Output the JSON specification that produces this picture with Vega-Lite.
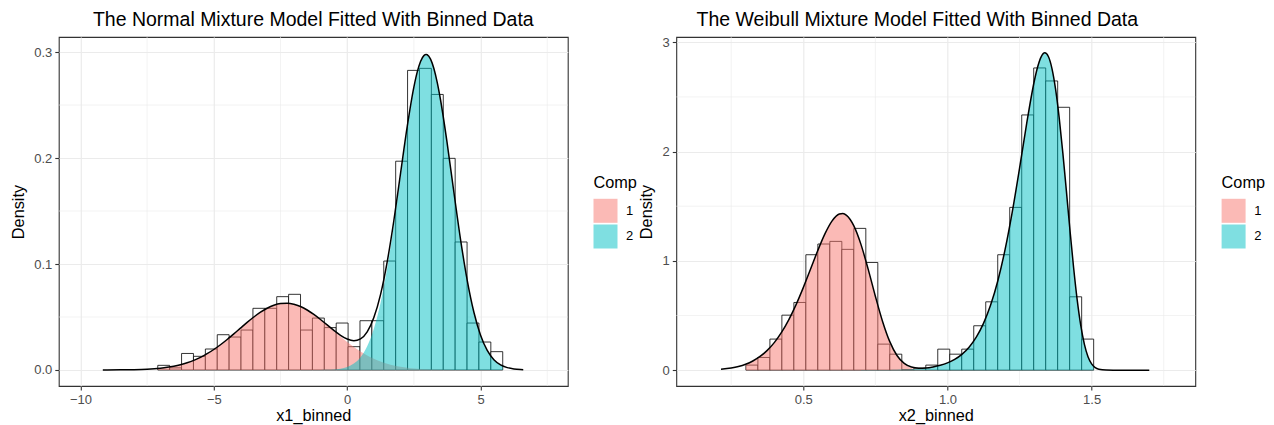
{
  "$schema": "https://vega.github.io/schema/vega-lite/v6.json",
  "padding": {"left": 8.8, "top": 9, "right": 0, "bottom": 5},
  "background": "white",
  "spacing": -1.5,
  "datasets": {
    "minorXL": [{"v": -7.5}, {"v": -2.5}, {"v": 2.5}, {"v": 7.5}],
    "minorYL": [{"v": 0.05}, {"v": 0.15}, {"v": 0.25}],
    "minorXR": [{"v": 0.25}, {"v": 0.75}, {"v": 1.25}, {"v": 1.75}],
    "minorYR": [{"v": 0.5}, {"v": 1.5}, {"v": 2.5}],
    "binsL": [
      {"x0": -7.100, "x1": -6.654, "h": 0.0044},
      {"x0": -6.654, "x1": -6.208, "h": 0.0020},
      {"x0": -6.208, "x1": -5.762, "h": 0.0156},
      {"x0": -5.762, "x1": -5.316, "h": 0.0129},
      {"x0": -5.316, "x1": -4.870, "h": 0.0198},
      {"x0": -4.870, "x1": -4.425, "h": 0.0333},
      {"x0": -4.425, "x1": -3.979, "h": 0.0311},
      {"x0": -3.979, "x1": -3.533, "h": 0.0377},
      {"x0": -3.533, "x1": -3.087, "h": 0.0582},
      {"x0": -3.087, "x1": -2.641, "h": 0.0582},
      {"x0": -2.641, "x1": -2.195, "h": 0.0692},
      {"x0": -2.195, "x1": -1.749, "h": 0.0714},
      {"x0": -1.749, "x1": -1.303, "h": 0.0377},
      {"x0": -1.303, "x1": -0.857, "h": 0.0490},
      {"x0": -0.857, "x1": -0.411, "h": 0.0400},
      {"x0": -0.411, "x1": 0.034, "h": 0.0443},
      {"x0": 0.034, "x1": 0.480, "h": 0.0220},
      {"x0": 0.480, "x1": 0.926, "h": 0.0465},
      {"x0": 0.926, "x1": 1.372, "h": 0.0465},
      {"x0": 1.372, "x1": 1.818, "h": 0.1028},
      {"x0": 1.818, "x1": 2.264, "h": 0.1970},
      {"x0": 2.264, "x1": 2.710, "h": 0.2827},
      {"x0": 2.710, "x1": 3.156, "h": 0.2846},
      {"x0": 3.156, "x1": 3.602, "h": 0.2600},
      {"x0": 3.602, "x1": 4.048, "h": 0.1997},
      {"x0": 4.048, "x1": 4.494, "h": 0.1208},
      {"x0": 4.494, "x1": 4.939, "h": 0.0443},
      {"x0": 4.939, "x1": 5.385, "h": 0.0264},
      {"x0": 5.385, "x1": 5.831, "h": 0.0173}
    ],
    "compL": [
      {"x": -7.1, "d": 0.00149, "c": "1"}, {"x": -7, "d": 0.00174, "c": "1"}, {"x": -6.75, "d": 0.00252, "c": "1"}, {"x": -6.5, "d": 0.00359, "c": "1"},
      {"x": -6.25, "d": 0.00500, "c": "1"}, {"x": -6, "d": 0.00682, "c": "1"}, {"x": -5.75, "d": 0.00912, "c": "1"}, {"x": -5.5, "d": 0.01196, "c": "1"},
      {"x": -5.25, "d": 0.01537, "c": "1"}, {"x": -5, "d": 0.01934, "c": "1"}, {"x": -4.75, "d": 0.02383, "c": "1"}, {"x": -4.5, "d": 0.02880, "c": "1"},
      {"x": -4.25, "d": 0.03408, "c": "1"}, {"x": -4, "d": 0.03952, "c": "1"}, {"x": -3.75, "d": 0.04491, "c": "1"}, {"x": -3.5, "d": 0.05000, "c": "1"},
      {"x": -3.25, "d": 0.05453, "c": "1"}, {"x": -3, "d": 0.05829, "c": "1"}, {"x": -2.75, "d": 0.06104, "c": "1"}, {"x": -2.5, "d": 0.06263, "c": "1"},
      {"x": -2.25, "d": 0.06296, "c": "1"}, {"x": -2, "d": 0.06202, "c": "1"}, {"x": -1.75, "d": 0.05986, "c": "1"}, {"x": -1.5, "d": 0.05660, "c": "1"},
      {"x": -1.25, "d": 0.05244, "c": "1"}, {"x": -1, "d": 0.04760, "c": "1"}, {"x": -0.75, "d": 0.04234, "c": "1"}, {"x": -0.5, "d": 0.03690, "c": "1"},
      {"x": -0.25, "d": 0.03151, "c": "1"}, {"x": 0, "d": 0.02637, "c": "1"}, {"x": 0.25, "d": 0.02161, "c": "1"}, {"x": 0.5, "d": 0.01736, "c": "1"},
      {"x": 0.75, "d": 0.01366, "c": "1"}, {"x": 1, "d": 0.01053, "c": "1"}, {"x": 1.25, "d": 0.00796, "c": "1"}, {"x": 1.5, "d": 0.00589, "c": "1"},
      {"x": 1.75, "d": 0.00427, "c": "1"}, {"x": 2, "d": 0.00304, "c": "1"}, {"x": 2.25, "d": 0.00211, "c": "1"}, {"x": 2.5, "d": 0.00144, "c": "1"},
      {"x": 2.75, "d": 0.00096, "c": "1"}, {"x": 3, "d": 0.00063, "c": "1"}, {"x": 3.25, "d": 0.00041, "c": "1"}, {"x": 3.5, "d": 0.00026, "c": "1"},
      {"x": 3.75, "d": 0.00016, "c": "1"}, {"x": 4, "d": 0.0001, "c": "1"},
      {"x": -1, "d": 0.00007, "c": "2"}, {"x": -0.75, "d": 0.0002, "c": "2"}, {"x": -0.5, "d": 0.00053, "c": "2"}, {"x": -0.25, "d": 0.00127, "c": "2"},
      {"x": 0, "d": 0.00288, "c": "2"}, {"x": 0.25, "d": 0.00609, "c": "2"}, {"x": 0.5, "d": 0.01207, "c": "2"}, {"x": 0.75, "d": 0.0224, "c": "2"},
      {"x": 1, "d": 0.03891, "c": "2"}, {"x": 1.25, "d": 0.06317, "c": "2"}, {"x": 1.5, "d": 0.09614, "c": "2"}, {"x": 1.75, "d": 0.1368, "c": "2"},
      {"x": 2, "d": 0.1824, "c": "2"}, {"x": 2.25, "d": 0.2275, "c": "2"}, {"x": 2.5, "d": 0.2655, "c": "2"}, {"x": 2.625, "d": 0.2799, "c": "2"},
      {"x": 2.75, "d": 0.2901, "c": "2"}, {"x": 2.875, "d": 0.2959, "c": "2"}, {"x": 2.96, "d": 0.297, "c": "2"}, {"x": 3, "d": 0.2968, "c": "2"},
      {"x": 3.125, "d": 0.2928, "c": "2"}, {"x": 3.25, "d": 0.2841, "c": "2"}, {"x": 3.375, "d": 0.2711, "c": "2"}, {"x": 3.5, "d": 0.2545, "c": "2"},
      {"x": 3.75, "d": 0.2135, "c": "2"}, {"x": 4, "d": 0.1676, "c": "2"}, {"x": 4.25, "d": 0.1231, "c": "2"}, {"x": 4.5, "d": 0.0846, "c": "2"},
      {"x": 4.75, "d": 0.0545, "c": "2"}, {"x": 5, "d": 0.0328, "c": "2"}, {"x": 5.25, "d": 0.0185, "c": "2"}, {"x": 5.5, "d": 0.00977, "c": "2"},
      {"x": 5.75, "d": 0.00483, "c": "2"}, {"x": 5.83, "d": 0.0038, "c": "2"}
    ],
    "lineL": [
      {"x": -9.16, "d": 0.00003}, {"x": -9, "d": 0.00004}, {"x": -8.5, "d": 0.00012}, {"x": -8, "d": 0.00032}, {"x": -7.5, "d": 0.00077},
      {"x": -7, "d": 0.00174}, {"x": -6.75, "d": 0.00252}, {"x": -6.5, "d": 0.00359}, {"x": -6.25, "d": 0.00500}, {"x": -6, "d": 0.00682},
      {"x": -5.75, "d": 0.00912}, {"x": -5.5, "d": 0.01196}, {"x": -5.25, "d": 0.01537}, {"x": -5, "d": 0.01934}, {"x": -4.75, "d": 0.02383},
      {"x": -4.5, "d": 0.02880}, {"x": -4.25, "d": 0.03408}, {"x": -4, "d": 0.03952}, {"x": -3.75, "d": 0.04491}, {"x": -3.5, "d": 0.05000},
      {"x": -3.25, "d": 0.05453}, {"x": -3, "d": 0.05829}, {"x": -2.75, "d": 0.06104}, {"x": -2.5, "d": 0.06263}, {"x": -2.25, "d": 0.06296},
      {"x": -2, "d": 0.06202}, {"x": -1.75, "d": 0.05986}, {"x": -1.5, "d": 0.05661}, {"x": -1.25, "d": 0.05246}, {"x": -1, "d": 0.04767},
      {"x": -0.75, "d": 0.04254}, {"x": -0.5, "d": 0.03743}, {"x": -0.25, "d": 0.03278}, {"x": 0, "d": 0.02925}, {"x": 0.25, "d": 0.02770},
      {"x": 0.5, "d": 0.02943}, {"x": 0.75, "d": 0.03606}, {"x": 1, "d": 0.04944}, {"x": 1.25, "d": 0.07113}, {"x": 1.5, "d": 0.10203},
      {"x": 1.75, "d": 0.14107}, {"x": 2, "d": 0.18544}, {"x": 2.25, "d": 0.22961}, {"x": 2.5, "d": 0.26694}, {"x": 2.625, "d": 0.28105},
      {"x": 2.75, "d": 0.29106}, {"x": 2.875, "d": 0.29665}, {"x": 2.96, "d": 0.29768}, {"x": 3, "d": 0.29743}, {"x": 3.125, "d": 0.29326},
      {"x": 3.25, "d": 0.28451}, {"x": 3.375, "d": 0.27145}, {"x": 3.5, "d": 0.25476}, {"x": 3.75, "d": 0.21366}, {"x": 4, "d": 0.1677},
      {"x": 4.25, "d": 0.1231}, {"x": 4.5, "d": 0.0846}, {"x": 4.75, "d": 0.0545}, {"x": 5, "d": 0.0328}, {"x": 5.25, "d": 0.0185},
      {"x": 5.5, "d": 0.00977}, {"x": 5.75, "d": 0.00483}, {"x": 6, "d": 0.00223}, {"x": 6.25, "d": 0.00097}, {"x": 6.5, "d": 0.00039},
      {"x": 6.6, "d": 0.00027}
    ],
    "binsR": [
      {"x0": 0.3010, "x1": 0.3426, "h": 0.046},
      {"x0": 0.3426, "x1": 0.3842, "h": 0.116},
      {"x0": 0.3842, "x1": 0.4258, "h": 0.284},
      {"x0": 0.4258, "x1": 0.4674, "h": 0.503},
      {"x0": 0.4674, "x1": 0.5090, "h": 0.619},
      {"x0": 0.5090, "x1": 0.5505, "h": 1.056},
      {"x0": 0.5505, "x1": 0.5921, "h": 1.154},
      {"x0": 0.5921, "x1": 0.6337, "h": 1.178},
      {"x0": 0.6337, "x1": 0.6753, "h": 1.105},
      {"x0": 0.6753, "x1": 0.7169, "h": 1.297},
      {"x0": 0.7169, "x1": 0.7585, "h": 0.985},
      {"x0": 0.7585, "x1": 0.8001, "h": 0.238},
      {"x0": 0.8001, "x1": 0.8417, "h": 0.146},
      {"x0": 0.8417, "x1": 0.8833, "h": 0.005},
      {"x0": 0.8833, "x1": 0.9249, "h": 0.018},
      {"x0": 0.9249, "x1": 0.9664, "h": 0.046},
      {"x0": 0.9664, "x1": 1.0080, "h": 0.192},
      {"x0": 1.0080, "x1": 1.0496, "h": 0.146},
      {"x0": 1.0496, "x1": 1.0912, "h": 0.192},
      {"x0": 1.0912, "x1": 1.1328, "h": 0.406},
      {"x0": 1.1328, "x1": 1.1744, "h": 0.625},
      {"x0": 1.1744, "x1": 1.2160, "h": 1.056},
      {"x0": 1.2160, "x1": 1.2576, "h": 1.489},
      {"x0": 1.2576, "x1": 1.2992, "h": 2.335},
      {"x0": 1.2992, "x1": 1.3408, "h": 2.765},
      {"x0": 1.3408, "x1": 1.3823, "h": 2.646},
      {"x0": 1.3823, "x1": 1.4239, "h": 2.405},
      {"x0": 1.4239, "x1": 1.4655, "h": 0.671},
      {"x0": 1.4655, "x1": 1.5071, "h": 0.284}
    ],
    "compR": [
      {"x": 0.301, "d": 0.05512, "c": "1"}, {"x": 0.325, "d": 0.08371, "c": "1"}, {"x": 0.35, "d": 0.1250, "c": "1"}, {"x": 0.375, "d": 0.1808, "c": "1"},
      {"x": 0.4, "d": 0.2541, "c": "1"}, {"x": 0.425, "d": 0.3475, "c": "1"}, {"x": 0.45, "d": 0.4626, "c": "1"}, {"x": 0.475, "d": 0.5995, "c": "1"},
      {"x": 0.5, "d": 0.7551, "c": "1"}, {"x": 0.525, "d": 0.9230, "c": "1"}, {"x": 0.55, "d": 1.0923, "c": "1"}, {"x": 0.575, "d": 1.2464, "c": "1"},
      {"x": 0.6, "d": 1.3653, "c": "1"}, {"x": 0.625, "d": 1.4279, "c": "1"}, {"x": 0.6375, "d": 1.4322, "c": "1"}, {"x": 0.65, "d": 1.4164, "c": "1"},
      {"x": 0.675, "d": 1.3219, "c": "1"}, {"x": 0.7, "d": 1.1504, "c": "1"}, {"x": 0.725, "d": 0.9235, "c": "1"}, {"x": 0.75, "d": 0.6758, "c": "1"},
      {"x": 0.775, "d": 0.4446, "c": "1"}, {"x": 0.8, "d": 0.2588, "c": "1"}, {"x": 0.825, "d": 0.1311, "c": "1"}, {"x": 0.85, "d": 0.05666, "c": "1"},
      {"x": 0.875, "d": 0.02041, "c": "1"}, {"x": 0.9, "d": 0.0060, "c": "1"}, {"x": 0.925, "d": 0.0014, "c": "1"}, {"x": 0.95, "d": 0.00025, "c": "1"},
      {"x": 0.975, "d": 0, "c": "1"},
      {"x": 0.7, "d": 0.0002, "c": "2"}, {"x": 0.725, "d": 0.00036, "c": "2"}, {"x": 0.75, "d": 0.00063, "c": "2"}, {"x": 0.775, "d": 0.00107, "c": "2"},
      {"x": 0.8, "d": 0.0018, "c": "2"}, {"x": 0.825, "d": 0.00295, "c": "2"}, {"x": 0.85, "d": 0.00478, "c": "2"}, {"x": 0.875, "d": 0.00764, "c": "2"},
      {"x": 0.9, "d": 0.01206, "c": "2"}, {"x": 0.925, "d": 0.0188, "c": "2"}, {"x": 0.95, "d": 0.02892, "c": "2"}, {"x": 0.975, "d": 0.04398, "c": "2"},
      {"x": 1.0, "d": 0.06614, "c": "2"}, {"x": 1.025, "d": 0.09833, "c": "2"}, {"x": 1.05, "d": 0.1446, "c": "2"}, {"x": 1.075, "d": 0.2101, "c": "2"},
      {"x": 1.1, "d": 0.3018, "c": "2"}, {"x": 1.125, "d": 0.4277, "c": "2"}, {"x": 1.15, "d": 0.5975, "c": "2"}, {"x": 1.175, "d": 0.8206, "c": "2"},
      {"x": 1.2, "d": 1.1043, "c": "2"}, {"x": 1.225, "d": 1.4503, "c": "2"}, {"x": 1.25, "d": 1.846, "c": "2"}, {"x": 1.275, "d": 2.2596, "c": "2"},
      {"x": 1.3, "d": 2.6297, "c": "2"}, {"x": 1.3125, "d": 2.7712, "c": "2"}, {"x": 1.325, "d": 2.8666, "c": "2"}, {"x": 1.3375, "d": 2.903, "c": "2"},
      {"x": 1.35, "d": 2.8696, "c": "2"}, {"x": 1.3625, "d": 2.7591, "c": "2"}, {"x": 1.375, "d": 2.5705, "c": "2"}, {"x": 1.3875, "d": 2.3102, "c": "2"},
      {"x": 1.4, "d": 1.9923, "c": "2"}, {"x": 1.4125, "d": 1.6396, "c": "2"}, {"x": 1.425, "d": 1.2788, "c": "2"}, {"x": 1.4375, "d": 0.9387, "c": "2"},
      {"x": 1.45, "d": 0.6425, "c": "2"}, {"x": 1.4625, "d": 0.4064, "c": "2"}, {"x": 1.475, "d": 0.235, "c": "2"}, {"x": 1.4875, "d": 0.1227, "c": "2"},
      {"x": 1.5, "d": 0.05704, "c": "2"}, {"x": 1.507, "d": 0.03513, "c": "2"}
    ],
    "lineR": [
      {"x": 0.2146, "d": 0.00862}, {"x": 0.25, "d": 0.01995}, {"x": 0.275, "d": 0.03365}, {"x": 0.3, "d": 0.05413}, {"x": 0.325, "d": 0.08371},
      {"x": 0.35, "d": 0.1250}, {"x": 0.375, "d": 0.1808}, {"x": 0.4, "d": 0.2541}, {"x": 0.425, "d": 0.3475}, {"x": 0.45, "d": 0.4626},
      {"x": 0.475, "d": 0.5995}, {"x": 0.5, "d": 0.7551}, {"x": 0.525, "d": 0.9230}, {"x": 0.55, "d": 1.0923}, {"x": 0.575, "d": 1.2464},
      {"x": 0.6, "d": 1.3653}, {"x": 0.625, "d": 1.4279}, {"x": 0.6375, "d": 1.4322}, {"x": 0.65, "d": 1.4164}, {"x": 0.675, "d": 1.3220},
      {"x": 0.7, "d": 1.1506}, {"x": 0.725, "d": 0.9239}, {"x": 0.75, "d": 0.6764}, {"x": 0.775, "d": 0.4457}, {"x": 0.8, "d": 0.2606},
      {"x": 0.825, "d": 0.1341}, {"x": 0.85, "d": 0.0614}, {"x": 0.875, "d": 0.0281}, {"x": 0.9, "d": 0.0181}, {"x": 0.925, "d": 0.0202},
      {"x": 0.95, "d": 0.0292}, {"x": 0.975, "d": 0.0440}, {"x": 1.0, "d": 0.0661}, {"x": 1.025, "d": 0.0983}, {"x": 1.05, "d": 0.1446},
      {"x": 1.075, "d": 0.2101}, {"x": 1.1, "d": 0.3018}, {"x": 1.125, "d": 0.4277}, {"x": 1.15, "d": 0.5975}, {"x": 1.175, "d": 0.8206},
      {"x": 1.2, "d": 1.1043}, {"x": 1.225, "d": 1.4503}, {"x": 1.25, "d": 1.8460}, {"x": 1.275, "d": 2.2596}, {"x": 1.3, "d": 2.6297},
      {"x": 1.3125, "d": 2.7712}, {"x": 1.325, "d": 2.8666}, {"x": 1.3375, "d": 2.9030}, {"x": 1.35, "d": 2.8696}, {"x": 1.3625, "d": 2.7591},
      {"x": 1.375, "d": 2.5705}, {"x": 1.3875, "d": 2.3102}, {"x": 1.4, "d": 1.9923}, {"x": 1.4125, "d": 1.6396}, {"x": 1.425, "d": 1.2788},
      {"x": 1.4375, "d": 0.9387}, {"x": 1.45, "d": 0.6425}, {"x": 1.4625, "d": 0.4064}, {"x": 1.475, "d": 0.2350}, {"x": 1.4875, "d": 0.1227},
      {"x": 1.5, "d": 0.0570}, {"x": 1.525, "d": 0.0082}, {"x": 1.55, "d": 0.0006}, {"x": 1.575, "d": 0.0}, {"x": 1.6, "d": 0.0},
      {"x": 1.65, "d": 0.0}, {"x": 1.7, "d": 0.0}
    ]
  },
  "hconcat": [
    {
      "width": 509,
      "height": 349,
      "title": {"text": "The Normal Mixture Model Fitted With Binned Data"},
      "layer": [
        {
          "data": {"name": "minorXL"},
          "mark": {"type": "rule", "color": "#EBEBEB", "strokeWidth": 0.6},
          "encoding": {
            "x": {"field": "v", "type": "quantitative", "scale": {"domain": [-10.81, 8.27], "nice": false, "zero": false}, "axis": {"title": "x1_binned", "values": [-10, -5, 0, 5], "format": "d"}}
          }
        },
        {
          "data": {"name": "minorYL"},
          "mark": {"type": "rule", "color": "#EBEBEB", "strokeWidth": 0.6},
          "encoding": {
            "y": {"field": "v", "type": "quantitative", "scale": {"domain": [-0.0151, 0.3142], "nice": false, "zero": false}, "axis": {"title": "Density", "values": [0, 0.1, 0.2, 0.3], "format": ".1f"}}
          }
        },
        {
          "data": {"name": "binsL"},
          "mark": {"type": "rect", "fill": "white", "stroke": "black", "strokeWidth": 0.8},
          "encoding": {
            "x": {"field": "x0", "type": "quantitative", "scale": {"domain": [-10.81, 8.27], "nice": false, "zero": false}, "axis": {"title": "x1_binned", "values": [-10, -5, 0, 5], "format": "d"}},
            "x2": {"field": "x1"},
            "y": {"field": "h", "type": "quantitative", "scale": {"domain": [-0.0151, 0.3142], "nice": false, "zero": false}, "axis": {"title": "Density", "values": [0, 0.1, 0.2, 0.3], "format": ".1f"}},
            "y2": {"datum": 0}
          }
        },
        {
          "data": {"name": "compL"},
          "mark": {"type": "area", "fillOpacity": 0.5, "interpolate": "monotone"},
          "encoding": {
            "x": {"field": "x", "type": "quantitative", "scale": {"domain": [-10.81, 8.27], "nice": false, "zero": false}, "axis": {"title": "x1_binned", "values": [-10, -5, 0, 5], "format": "d"}},
            "y": {"field": "d", "type": "quantitative", "stack": null, "scale": {"domain": [-0.0151, 0.3142], "nice": false, "zero": false}, "axis": {"title": "Density", "values": [0, 0.1, 0.2, 0.3], "format": ".1f"}},
            "color": {"field": "c", "type": "nominal", "scale": {"domain": ["1", "2"], "range": ["#F8766D", "#00BFC4"]}, "legend": {"title": "Comp", "orient": "none", "legendX": 534.7, "legendY": 138.2}}
          }
        },
        {
          "data": {"name": "lineL"},
          "mark": {"type": "line", "color": "black", "strokeWidth": 1.5, "interpolate": "monotone"},
          "encoding": {
            "x": {"field": "x", "type": "quantitative", "scale": {"domain": [-10.81, 8.27], "nice": false, "zero": false}, "axis": {"title": "x1_binned", "values": [-10, -5, 0, 5], "format": "d"}},
            "y": {"field": "d", "type": "quantitative", "scale": {"domain": [-0.0151, 0.3142], "nice": false, "zero": false}, "axis": {"title": "Density", "values": [0, 0.1, 0.2, 0.3], "format": ".1f"}}
          }
        }
      ]
    },
    {
      "width": 519,
      "height": 349,
      "title": {"text": "The Weibull Mixture Model Fitted With Binned Data", "dx": -18.5},
      "layer": [
        {
          "data": {"name": "minorXR"},
          "mark": {"type": "rule", "color": "#EBEBEB", "strokeWidth": 0.6},
          "encoding": {
            "x": {"field": "v", "type": "quantitative", "scale": {"domain": [0.0596, 1.8596], "nice": false, "zero": false}, "axis": {"title": "x2_binned", "values": [0.5, 1.0, 1.5], "format": ".1f"}}
          }
        },
        {
          "data": {"name": "minorYR"},
          "mark": {"type": "rule", "color": "#EBEBEB", "strokeWidth": 0.6},
          "encoding": {
            "y": {"field": "v", "type": "quantitative", "scale": {"domain": [-0.1452, 3.0482], "nice": false, "zero": false}, "axis": {"title": "Density", "values": [0, 1, 2, 3], "format": "d"}}
          }
        },
        {
          "data": {"name": "binsR"},
          "mark": {"type": "rect", "fill": "white", "stroke": "black", "strokeWidth": 0.8},
          "encoding": {
            "x": {"field": "x0", "type": "quantitative", "scale": {"domain": [0.0596, 1.8596], "nice": false, "zero": false}, "axis": {"title": "x2_binned", "values": [0.5, 1.0, 1.5], "format": ".1f"}},
            "x2": {"field": "x1"},
            "y": {"field": "h", "type": "quantitative", "scale": {"domain": [-0.1452, 3.0482], "nice": false, "zero": false}, "axis": {"title": "Density", "values": [0, 1, 2, 3], "format": "d"}},
            "y2": {"datum": 0}
          }
        },
        {
          "data": {"name": "compR"},
          "mark": {"type": "area", "fillOpacity": 0.5, "interpolate": "monotone"},
          "encoding": {
            "x": {"field": "x", "type": "quantitative", "scale": {"domain": [0.0596, 1.8596], "nice": false, "zero": false}, "axis": {"title": "x2_binned", "values": [0.5, 1.0, 1.5], "format": ".1f"}},
            "y": {"field": "d", "type": "quantitative", "stack": null, "scale": {"domain": [-0.1452, 3.0482], "nice": false, "zero": false}, "axis": {"title": "Density", "values": [0, 1, 2, 3], "format": "d"}},
            "color": {"field": "c", "type": "nominal", "scale": {"domain": ["1", "2"], "range": ["#F8766D", "#00BFC4"]}, "legend": {"title": "Comp", "orient": "none", "legendX": 545.3, "legendY": 138.2}}
          }
        },
        {
          "data": {"name": "lineR"},
          "mark": {"type": "line", "color": "black", "strokeWidth": 1.5, "interpolate": "monotone"},
          "encoding": {
            "x": {"field": "x", "type": "quantitative", "scale": {"domain": [0.0596, 1.8596], "nice": false, "zero": false}, "axis": {"title": "x2_binned", "values": [0.5, 1.0, 1.5], "format": ".1f"}},
            "y": {"field": "d", "type": "quantitative", "scale": {"domain": [-0.1452, 3.0482], "nice": false, "zero": false}, "axis": {"title": "Density", "values": [0, 1, 2, 3], "format": "d"}}
          }
        }
      ]
    }
  ],
  "resolve": {"scale": {"x": "independent", "y": "independent", "color": "independent"}, "legend": {"color": "independent"}},
  "config": {
    "font": "Liberation Sans",
    "view": {"stroke": "#333333", "strokeWidth": 1.1},
    "axis": {
      "domain": false, "grid": true, "gridColor": "#EBEBEB", "gridWidth": 1.2,
      "ticks": true, "tickColor": "#333333", "tickSize": 4, "tickWidth": 1.1,
      "labelColor": "#4D4D4D", "labelFontSize": 13, "labelFont": "Liberation Sans",
      "titleFont": "Liberation Sans", "titleFontSize": 16.3, "titleFontWeight": "normal", "titleColor": "#000000",
      "labelFlush": false, "labelOverlap": false
    },
    "axisX": {"labelPadding": 3.6, "titlePadding": 1.2},
    "axisY": {"labelPadding": 3, "titlePadding": 7.7},
    "legend": {
      "titleFont": "Liberation Sans", "titleFontSize": 16.3, "titleFontWeight": "normal", "titleColor": "#000000",
      "labelFont": "Liberation Sans", "labelFontSize": 13, "labelColor": "#000000",
      "symbolType": "square", "symbolSize": 576, "symbolStrokeWidth": 0, "symbolOpacity": 0.5,
      "rowPadding": 1.7, "titlePadding": 7.3, "labelOffset": 8.6, "padding": 0
    },
    "title": {"font": "Liberation Sans", "fontSize": 19.5, "fontWeight": "normal", "color": "#000000", "anchor": "middle", "offset": 6, "baseline": "alphabetic"}
  }
}
